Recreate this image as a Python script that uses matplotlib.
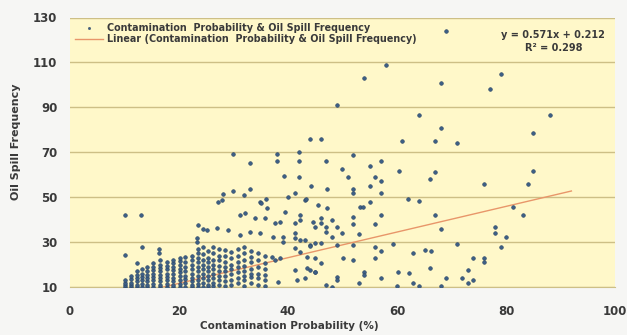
#!/usr/bin/env python3
"""Scatter of oil spill frequency against contamination probability with linear trend."""

import matplotlib

matplotlib.use("Agg")
import matplotlib.pyplot as plt
import numpy as np

# --- dense cloud at low contamination probability (column x, its y values) ---
dense_cols_x = [10.0, 11.2, 12.3, 13.2, 14.1, 15.2, 16.5, 17.8, 18.9, 20.2, 21.1, 22.4,
                23.5, 24.4, 25.3, 26.2, 27.3, 28.5, 29.6, 30.8, 32.0, 33.2, 34.5, 35.7]
dense_cols_y = [
    [10, 11, 12, 13],
    [10, 11, 12, 13.5, 15],
    [10, 11, 12.5, 14, 15.5, 17],
    [10, 11.5, 13, 14.5, 16, 18],
    [10, 11, 12.5, 14, 15.5, 17, 19],
    [10, 11.5, 13, 14.5, 16, 17.5, 19, 20.5],
    [10, 11, 12.5, 14, 15.5, 17, 18.5, 20, 22],
    [10, 11.5, 13, 14.5, 16, 18, 19.5, 21],
    [10, 11, 12.5, 14, 16, 17.5, 19, 20.5, 22],
    [10, 11.5, 13, 15, 16.5, 18, 20, 21.5, 23],
    [10, 12, 13.5, 15, 17, 19, 21, 23.5],
    [10, 11, 12.5, 14, 16, 18, 20, 22, 24],
    [10, 11.5, 13, 15, 17, 19, 21, 23, 25, 27],
    [10, 12, 14, 16, 18, 20, 22, 24.5, 28],
    [10, 11, 13, 15, 17, 19, 21, 23, 26],
    [10.5, 12, 14, 16, 18, 20, 22, 25, 28],
    [11, 13, 15, 17, 19.5, 22, 24, 27],
    [10.5, 12.5, 15, 17, 19, 21, 24, 26.5],
    [11, 13, 16, 18, 20, 23, 25.5],
    [12, 14, 16.5, 19, 21, 24, 27],
    [10.5, 13, 15, 17, 19.5, 22, 25, 28],
    [12, 14.5, 16, 18, 21, 23.5, 26],
    [11, 14, 16, 19, 22, 25],
    [10.5, 13, 15.5, 18, 20.5, 24],
]

# --- scattered points (contamination probability %, oil spill frequency) ---
scatter_x = [
    10, 13, 10, 13.2, 12.3, 16.3, 16.3, 23.5, 24.4, 25.1, 23.3, 23.3,
    27.9, 34.9, 36.1, 39.4, 42.2, 43.1, 45.5, 31.2, 32.1, 33.9, 35.8,
    37.6, 38.5, 41.3, 42.2, 44.6, 45, 27, 29, 31.2, 33, 34.9,
    37.2, 39.1, 39.1, 41.3, 41.3, 42.2, 43.1, 44, 45,
    37, 37.6, 38.5, 41.3, 42.2, 43.5, 45, 41.3, 43.5, 45, 41.7, 43.1, 38.2,
    47.2, 53.2, 53.8, 55, 52, 52, 57, 56, 46, 46, 47, 47, 48, 49, 50, 53, 48.1,
    46, 49, 52, 56, 57, 59.3, 63, 65.1, 66.2, 71, 44,
    46, 50.1, 52, 56, 44, 45, 49, 49, 54, 54, 57, 53, 60.2, 62.2, 66,
    47, 48, 60, 63, 64, 69, 68, 72, 73, 73, 74, 74, 76, 76,
    67, 68, 81.3, 83.1, 78, 78, 80, 79,
    58, 54, 49, 44, 46, 61, 30, 38, 38, 33, 42, 42, 42, 47, 52, 50, 51,
    55, 57, 56, 57, 60.4, 39.3, 44.2, 47.2, 52, 52, 55, 57, 28, 30, 32,
    33, 40, 41.3, 43.3, 36, 35, 27.2, 62,
    69, 79, 68, 77, 64, 88, 68, 85, 67, 71, 85, 67, 66, 76, 84, 64,
]
scatter_y = [
    42, 42, 24.2, 27.8, 20.7, 26.9, 25.1, 37.6, 35.8, 35.3, 31.8, 30,
    48.7, 47.8, 45.1, 43.3, 42, 48.7, 46.4, 42, 42.9, 40.7, 40.7,
    38.4, 38.9, 38.4, 39.8, 38.9, 36.7, 36.2, 35.3, 33.1, 34.4, 34,
    32.2, 32.2, 30, 34, 31.8, 30.9, 30.9, 28.7, 29.6,
    23.3, 22, 22.9, 27.3, 25.6, 23.3, 22.9, 17.6, 18.4, 16.7, 13.1, 14, 12.2,
    45.1, 45.5, 45.5, 47.8, 41, 38, 42, 38, 40.7, 38.4, 36.7, 34.4, 39.8, 36.7, 34, 33.6, 32.2,
    29.6, 28.7, 28.7, 27.8, 26, 29.1, 25, 26.4, 26, 29, 28.2,
    20.7, 22.9, 22, 22.9, 17.6, 16.7, 14.4, 13, 16.7, 15.3, 14, 12, 16.7, 16.2, 18.5,
    11, 10, 10.4, 12, 10.4, 14, 10.4, 14, 17.6, 12, 13, 23, 23, 21,
    42, 35.8, 45.5, 42, 36.7, 34, 32.2, 28,
    109, 103, 91, 76, 76, 75, 69, 69, 66, 65, 70, 66, 59, 66, 68.7, 62.4, 59,
    63.8, 66, 59, 57, 61.6, 59.3, 54.9, 53.5, 53.5, 51.8, 54.9, 51.8, 51.3, 52.7, 50.9,
    53.5, 50, 51.8, 49.1, 49.1, 47.3, 47.8, 49.1,
    124, 104.7, 100.7, 98, 86.4, 86.4, 80.7, 78.4, 75, 74, 61.6, 61, 58, 55.8, 55.8, 48.2,
]

# Excel trendline shown on the chart
slope = 0.571
intercept = 0.212
r_squared = 0.298
trend_range = [10, 92]

series_label = "Contamination  Probability & Oil Spill Frequency"
trend_label = "Linear (Contamination  Probability & Oil Spill Frequency)"

x_ticks = [0, 20, 40, 60, 80, 100]
y_ticks = [10, 30, 50, 70, 90, 110, 130]

# flatten the dense columns
dense_x = [cx for cx, ys in zip(dense_cols_x, dense_cols_y) for _ in ys]
dense_y = [y for ys in dense_cols_y for y in ys]
all_x = np.array(dense_x + scatter_x)
all_y = np.array(dense_y + scatter_y)

text_col = "#3a3a3a"
grid_col = "#cdbf86"
dot_col = "#3d5f86"

fig = plt.figure(figsize=(6.27, 3.35), dpi=100, facecolor="#f6f6f4")
ax = fig.add_axes([70 / 627, 1 - 287 / 335, 545 / 627, 269.5 / 335])
ax.set_facecolor("#fff8c9")

ax.scatter(all_x, all_y, s=7, color=dot_col, edgecolors="#2c4664",
           linewidths=0.4, zorder=3, label=series_label)
tx = np.array(trend_range, dtype=float)
ax.plot(tx, slope * tx + intercept, color="#e8966a", lw=1.0, zorder=2,
        label=trend_label)

ax.set_xlim(0, 100)
ax.set_ylim(10, 130)
ax.set_xticks(x_ticks)
ax.set_yticks(y_ticks)
ax.yaxis.grid(True, color=grid_col, lw=1.0)
ax.set_axisbelow(True)
for side in ("top", "right", "left"):
    ax.spines[side].set_visible(False)
ax.spines["bottom"].set_color(grid_col)
ax.tick_params(axis="both", length=0, labelsize=8.5, labelcolor=text_col)
ax.tick_params(axis="x", pad=13)
ax.tick_params(axis="y", pad=9)
for lab in ax.get_xticklabels() + ax.get_yticklabels():
    lab.set_fontweight("bold")

ax.set_xlabel("Contamination Probability (%)", fontsize=7.5, fontweight="bold",
              color=text_col)
ax.xaxis.set_label_coords(0.402, -0.125)
ax.set_ylabel("Oil Spill Frequency", fontsize=8, fontweight="bold", color=text_col)
ax.yaxis.set_label_coords(-0.09, 0.54)

leg = ax.legend(loc="upper left", bbox_to_anchor=(0.0, 1.0), frameon=False,
                fontsize=6.9, handlelength=2.9, handletextpad=0.4,
                labelspacing=0.15, markerscale=0.6, borderaxespad=0.25,
                borderpad=0.3)
for t in leg.get_texts():
    t.set_fontweight("bold")
    t.set_color(text_col)

ax.text(0.887, 0.955, f"y = {slope}x + {intercept}\nR\u00b2 = {r_squared}",
        transform=ax.transAxes, ha="center", va="top", fontsize=7,
        fontweight="bold", color=text_col, linespacing=1.4)

fig.savefig("out.png", dpi=100, facecolor=fig.get_facecolor())
